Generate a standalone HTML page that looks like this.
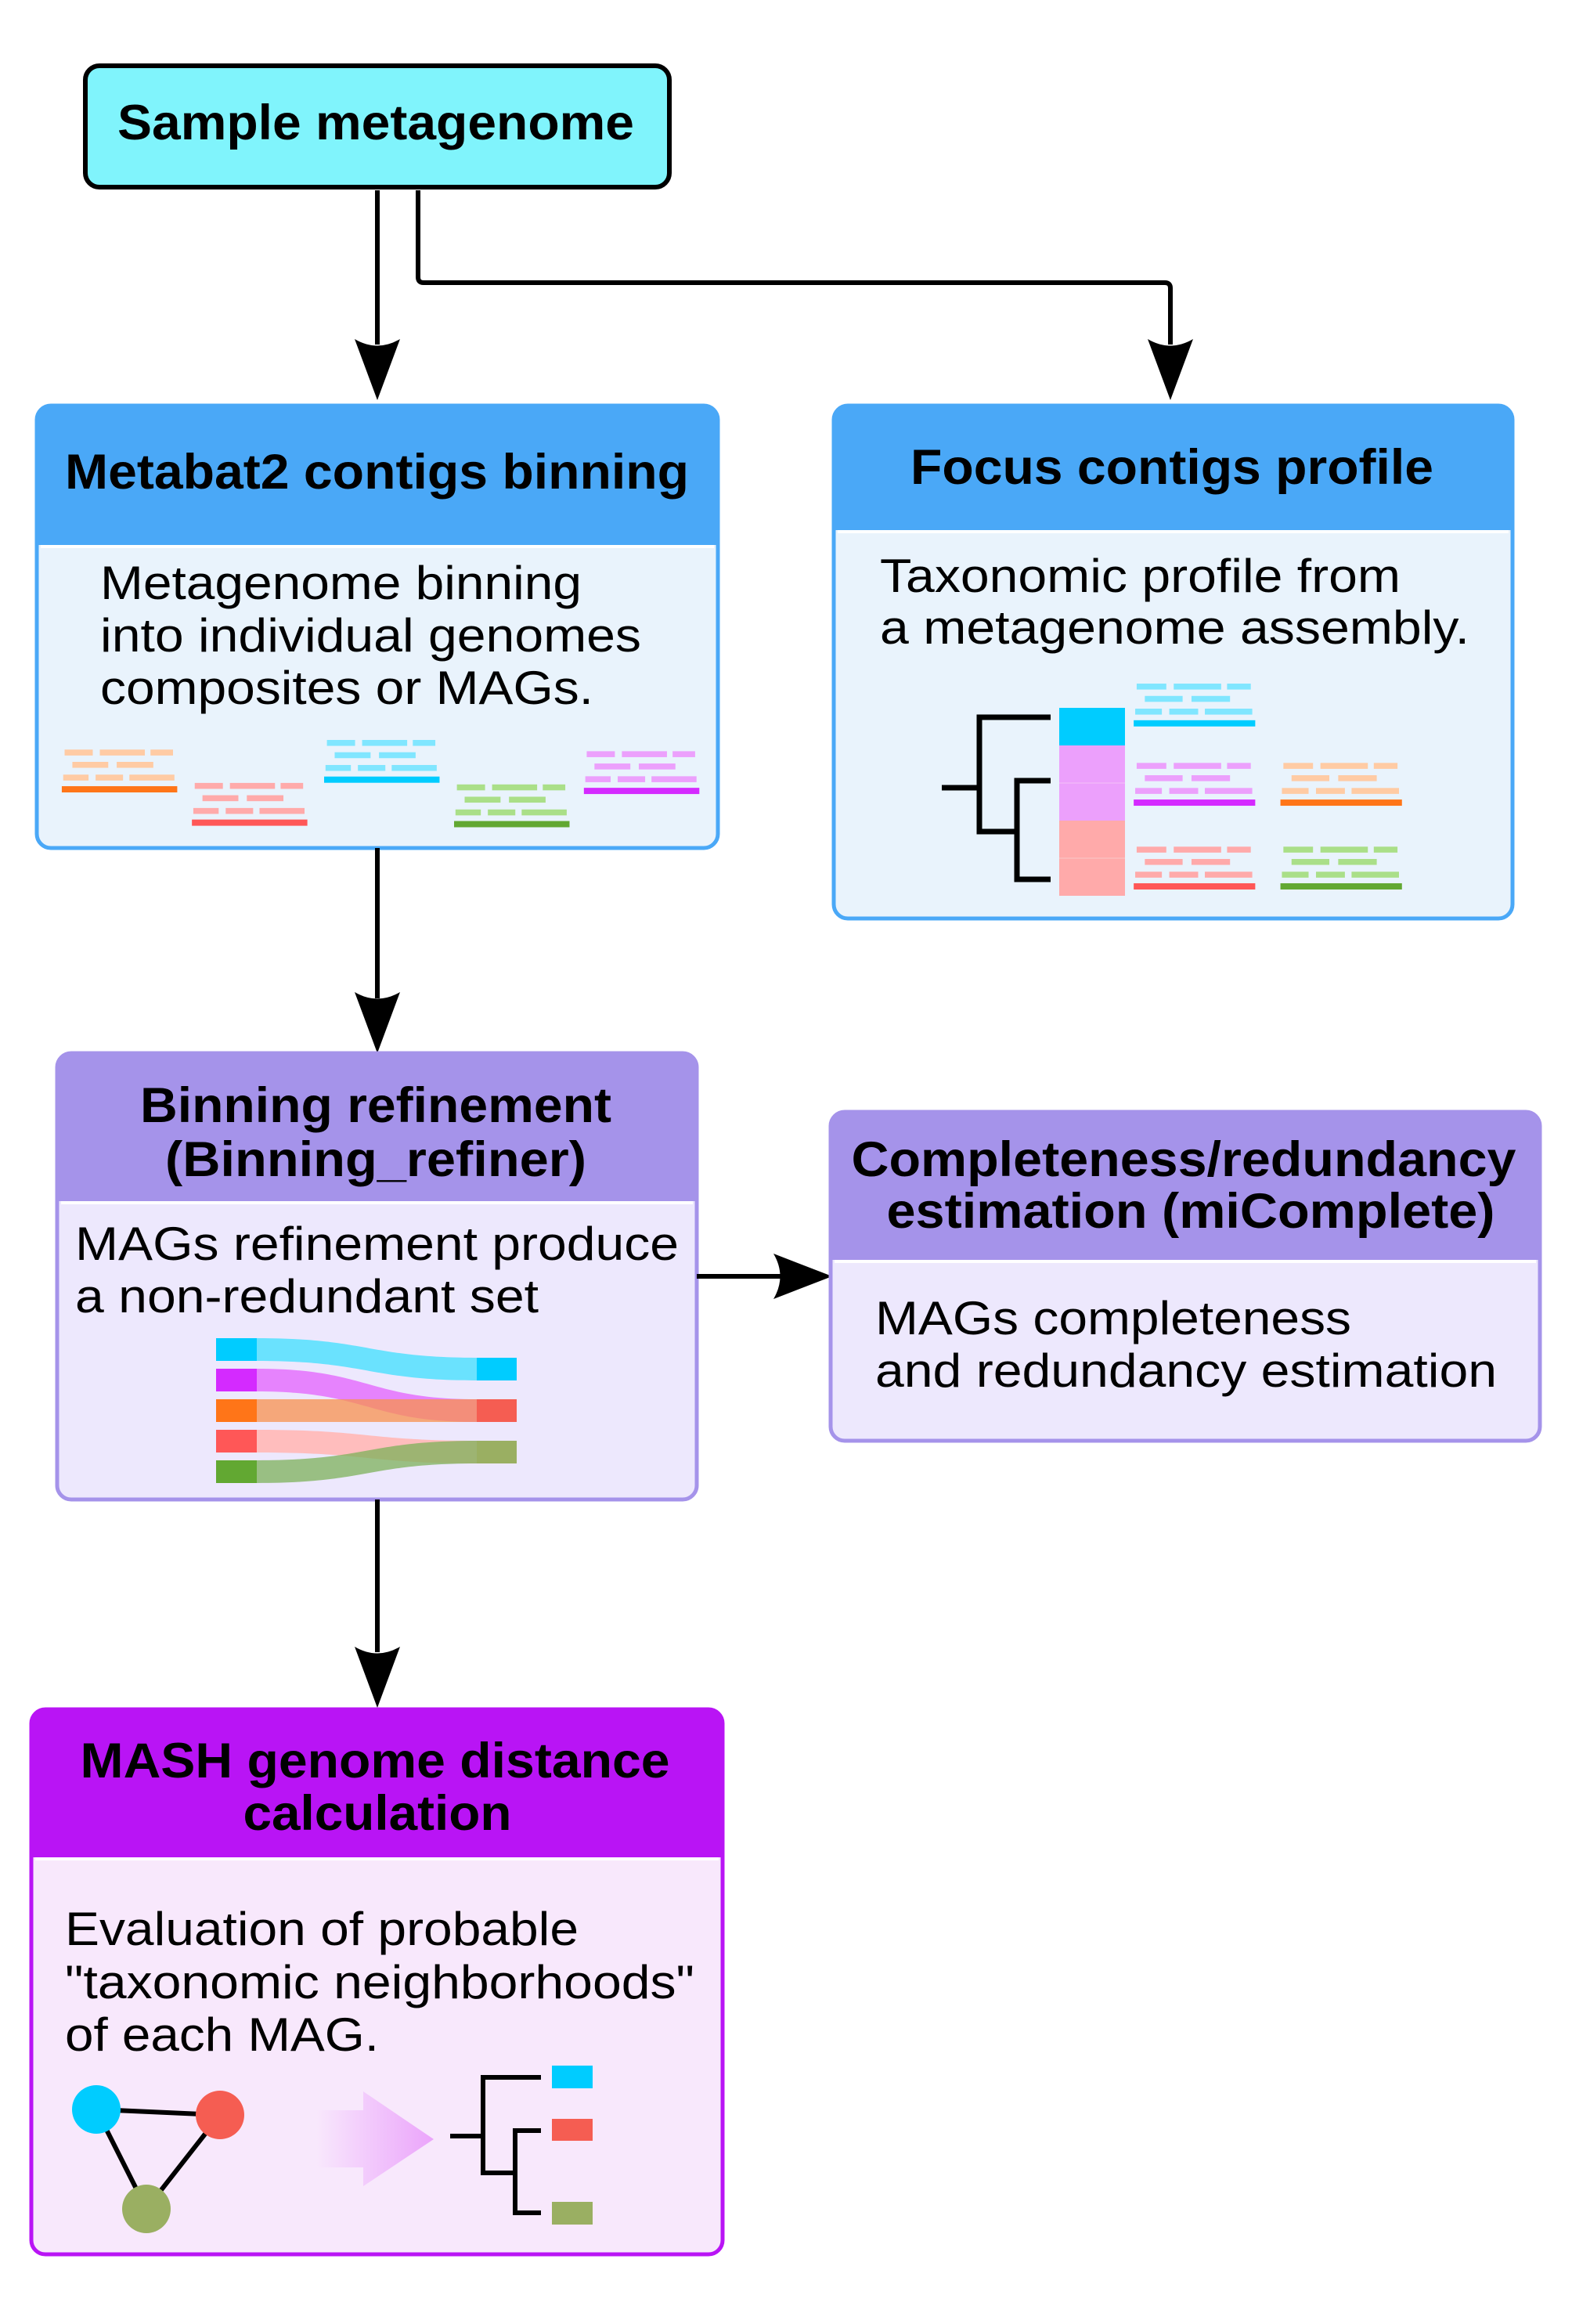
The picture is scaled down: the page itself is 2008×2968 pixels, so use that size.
<!DOCTYPE html>
<html><head><meta charset="utf-8"><style>
html,body{margin:0;padding:0;background:#fff;}
svg{display:block;}
text{font-family:"Liberation Sans",Arial,sans-serif;fill:#000;}
.t{font-weight:bold;font-size:63px;}
.b{font-size:60px;}
</style></head><body>
<svg width="2008" height="2968" viewBox="0 0 2008 2968" xmlns="http://www.w3.org/2000/svg">
<defs>
<g id="dash">
<rect x="2" y="-26.8" width="20" height="4" fill="inherit"/>
<rect x="27" y="-26.8" width="32" height="4"/>
<rect x="63" y="-26.8" width="16" height="4"/>
<rect x="7.5" y="-18.5" width="25.5" height="4"/>
<rect x="39" y="-18.5" width="26" height="4"/>
<rect x="1" y="-9.9" width="18" height="4"/>
<rect x="24" y="-9.9" width="19.5" height="4"/>
<rect x="48" y="-9.9" width="32" height="4"/>
<rect x="0" y="-2.1" width="82" height="4.2" fill="currentColor"/>
</g>
<linearGradient id="ag" x1="0" x2="1" y1="0" y2="0">
<stop offset="0" stop-color="#f8e8fc"/><stop offset="1" stop-color="#eba4fb"/>
</linearGradient>
</defs>

<!-- Sample metagenome -->
<rect x="109" y="84" width="746" height="155" rx="18" fill="#80f4fc" stroke="#000" stroke-width="6"/>
<text class="t" x="150" y="178" font-size="64" textLength="660" lengthAdjust="spacingAndGlyphs">Sample metagenome</text>

<!-- connectors top -->
<line x1="482" y1="243" x2="482" y2="440" stroke="#000" stroke-width="6"/>
<path d="M453,433 Q482,450 511,433 L482,511 Z" fill="#000"/>
<path d="M534,243 V354 Q534,361 541,361 H1488 Q1495,361 1495,368 V440" fill="none" stroke="#000" stroke-width="6"/>
<path d="M1466,433 Q1495,450 1524,433 L1495,511 Z" fill="#000"/>

<!-- Metabat box -->
<rect x="47" y="518" width="870" height="565" rx="18" fill="#e9f3fc" stroke="#4aa8f7" stroke-width="5"/>
<path d="M47,536 Q47,518 65,518 H899 Q917,518 917,536 V696 H47 Z" fill="#4aa8f7"/>
<line x1="52" y1="698" x2="912" y2="698" stroke="#fff" stroke-width="4"/>
<text class="t" x="83" y="624" textLength="797" lengthAdjust="spacingAndGlyphs">Metabat2 contigs binning</text>
<text class="b" x="128" y="765" textLength="615" lengthAdjust="spacingAndGlyphs">Metagenome binning</text>
<text class="b" x="128" y="832" textLength="691" lengthAdjust="spacingAndGlyphs">into individual genomes</text>
<text class="b" x="128" y="899" textLength="630" lengthAdjust="spacingAndGlyphs">composites or MAGs.</text>
<g transform="scale(1.893)">
<use href="#dash" transform="translate(41.7,532.5) scale(0.95,1)" fill="#ffcba4" style="color:#ff7518"/>
<use href="#dash" transform="translate(129.5,555) scale(0.95,1)" fill="#ffaaaa" style="color:#ff5757"/>
<use href="#dash" transform="translate(218.7,526) scale(0.95,1)" fill="#80e6ff" style="color:#00ccff"/>
<use href="#dash" transform="translate(306.4,556) scale(0.95,1)" fill="#aadf88" style="color:#62a832"/>
<use href="#dash" transform="translate(394,533.6) scale(0.95,1)" fill="#eca0fc" style="color:#d42aff"/>
</g>

<!-- Focus box -->
<rect x="1065" y="518" width="867" height="655" rx="18" fill="#e9f3fc" stroke="#4aa8f7" stroke-width="5"/>
<path d="M1065,536 Q1065,518 1083,518 H1914 Q1932,518 1932,536 V677 H1065 Z" fill="#4aa8f7"/>
<line x1="1070" y1="679" x2="1927" y2="679" stroke="#fff" stroke-width="4"/>
<text class="t" x="1163" y="618" textLength="668" lengthAdjust="spacingAndGlyphs">Focus contigs profile</text>
<text class="b" x="1124" y="756" textLength="665" lengthAdjust="spacingAndGlyphs">Taxonomic profile from</text>
<text class="b" x="1124" y="822" textLength="753" lengthAdjust="spacingAndGlyphs">a metagenome assembly.</text>
<rect x="1353" y="904" width="84" height="48" fill="#00ccff"/>
<rect x="1353" y="952" width="84" height="96" fill="#eca0fc"/>
<rect x="1353" y="1048" width="84" height="96" fill="#ffaaaa"/>
<line x1="1353" y1="1000" x2="1437" y2="1000" stroke="#f3c0f8" stroke-width="1"/>
<line x1="1353" y1="1096" x2="1437" y2="1096" stroke="#f8c8c8" stroke-width="1"/>
<path d="M1342,916 H1251 V1062 H1299 M1203,1006 H1251 M1342,997 H1299 V1123 H1342" fill="none" stroke="#000" stroke-width="7"/>
<g transform="scale(1.893)">
<use href="#dash" transform="translate(765,488)" fill="#80e6ff" style="color:#00ccff"/>
<use href="#dash" transform="translate(765,541.5)" fill="#eca0fc" style="color:#d42aff"/>
<use href="#dash" transform="translate(864,541.5)" fill="#ffcba4" style="color:#ff7518"/>
<use href="#dash" transform="translate(765,598)" fill="#ffaaaa" style="color:#ff5757"/>
<use href="#dash" transform="translate(864,598)" fill="#aadf88" style="color:#62a832"/>
</g>

<!-- arrow metabat -> binning -->
<line x1="482" y1="1083" x2="482" y2="1275" stroke="#000" stroke-width="6"/>
<path d="M453,1267 Q482,1284 511,1267 L482,1345 Z" fill="#000"/>

<!-- Binning box -->
<rect x="73" y="1345" width="817" height="570" rx="18" fill="#ede8fd" stroke="#a593ea" stroke-width="5"/>
<path d="M73,1363 Q73,1345 91,1345 H872 Q890,1345 890,1363 V1534 H73 Z" fill="#a593ea"/>
<line x1="78" y1="1536" x2="885" y2="1536" stroke="#fff" stroke-width="4"/>
<text class="t" x="480" y="1433" text-anchor="middle" textLength="602" lengthAdjust="spacingAndGlyphs">Binning refinement</text>
<text class="t" x="480" y="1502" text-anchor="middle" textLength="538" lengthAdjust="spacingAndGlyphs">(Binning_refiner)</text>
<text class="b" x="96" y="1609" textLength="771" lengthAdjust="spacingAndGlyphs">MAGs refinement produce</text>
<text class="b" x="96" y="1676" textLength="592" lengthAdjust="spacingAndGlyphs">a non-redundant set</text>
<!-- sankey -->
<g>
<path d="M328,1709 C470,1709 470,1734 609,1734 V1763 C470,1763 470,1738 328,1738 Z" fill="#6ae2fe"/>
<path d="M328,1748 C470,1748 470,1787 609,1787 V1816 C470,1816 470,1777 328,1777 Z" fill="#e67dfd" opacity="0.95"/>
<path d="M328,1787 C470,1787 470,1787 609,1787 V1816 C470,1816 470,1816 328,1816 Z" fill="#f7924e" opacity="0.75"/>
<path d="M328,1826 C470,1826 470,1840 609,1840 V1869 C470,1869 470,1855 328,1855 Z" fill="#ffbdbd"/>
<path d="M328,1865 C470,1865 470,1840 609,1840 V1869 C470,1869 470,1894 328,1894 Z" fill="#7cb25a" opacity="0.75"/>
<rect x="276" y="1709" width="52" height="29" fill="#00ccff"/>
<rect x="276" y="1748" width="52" height="29" fill="#d42aff"/>
<rect x="276" y="1787" width="52" height="29" fill="#ff7518"/>
<rect x="276" y="1826" width="52" height="29" fill="#ff5757"/>
<rect x="276" y="1865" width="52" height="29" fill="#62a832"/>
<rect x="609" y="1734" width="51" height="29" fill="#00ccff"/>
<rect x="609" y="1787" width="51" height="29" fill="#f55d52"/>
<rect x="609" y="1840" width="51" height="29" fill="#9aaf62"/>
</g>

<!-- arrow binning -> completeness -->
<line x1="890" y1="1630" x2="1000" y2="1630" stroke="#000" stroke-width="6"/>
<path d="M988,1601 Q1005,1630 988,1659 L1063,1630 Z" fill="#000"/>

<!-- Completeness box -->
<rect x="1061" y="1420" width="906" height="420" rx="18" fill="#ede8fd" stroke="#a593ea" stroke-width="5"/>
<path d="M1061,1438 Q1061,1420 1079,1420 H1949 Q1967,1420 1967,1438 V1609 H1061 Z" fill="#a593ea"/>
<line x1="1066" y1="1611" x2="1962" y2="1611" stroke="#fff" stroke-width="4"/>
<text class="t" x="1512" y="1502" text-anchor="middle" textLength="849" lengthAdjust="spacingAndGlyphs">Completeness/redundancy</text>
<text class="t" x="1521" y="1568" text-anchor="middle" textLength="777" lengthAdjust="spacingAndGlyphs">estimation (miComplete)</text>
<text class="b" x="1118" y="1704" textLength="608" lengthAdjust="spacingAndGlyphs">MAGs completeness</text>
<text class="b" x="1118" y="1771" textLength="794" lengthAdjust="spacingAndGlyphs">and redundancy estimation</text>

<!-- arrow binning -> mash -->
<line x1="482" y1="1915" x2="482" y2="2110" stroke="#000" stroke-width="6"/>
<path d="M453,2103 Q482,2120 511,2103 L482,2181 Z" fill="#000"/>

<!-- MASH box -->
<rect x="40" y="2183" width="883" height="696" rx="18" fill="#f8e8fc" stroke="#b914f5" stroke-width="5"/>
<path d="M40,2201 Q40,2183 58,2183 H905 Q923,2183 923,2201 V2372 H40 Z" fill="#b914f5"/>
<line x1="45" y1="2374" x2="918" y2="2374" stroke="#fff" stroke-width="4"/>
<text class="t" x="479" y="2270" text-anchor="middle" textLength="753" lengthAdjust="spacingAndGlyphs">MASH genome distance</text>
<text class="t" x="482" y="2337" text-anchor="middle" textLength="343" lengthAdjust="spacingAndGlyphs">calculation</text>
<text class="b" x="83" y="2484" textLength="656" lengthAdjust="spacingAndGlyphs">Evaluation of probable</text>
<text class="b" x="83" y="2552" textLength="804" lengthAdjust="spacingAndGlyphs">"taxonomic neighborhoods"</text>
<text class="b" x="83" y="2619" textLength="401" lengthAdjust="spacingAndGlyphs">of each MAG.</text>
<!-- graph -->
<path d="M123,2694 L281,2701 M123,2694 L187,2821 M281,2701 L187,2821" stroke="#000" stroke-width="6" fill="none"/>
<circle cx="123" cy="2694" r="31" fill="#00ccff"/>
<circle cx="281" cy="2701" r="31" fill="#f55d52"/>
<circle cx="187" cy="2821" r="31" fill="#9aaf62"/>
<path d="M404,2695 H464 V2671 L554,2732 L464,2792 V2768 H404 Z" fill="url(#ag)"/>
<path d="M691,2653 H617 V2775 H658 M575,2728 H617 M691,2721 H658 V2826 H691" fill="none" stroke="#000" stroke-width="6"/>
<rect x="705" y="2638" width="52" height="29" fill="#00ccff"/>
<rect x="705" y="2706" width="52" height="28" fill="#f55d52"/>
<rect x="705" y="2812" width="52" height="29" fill="#9aaf62"/>
</svg>
</body></html>
